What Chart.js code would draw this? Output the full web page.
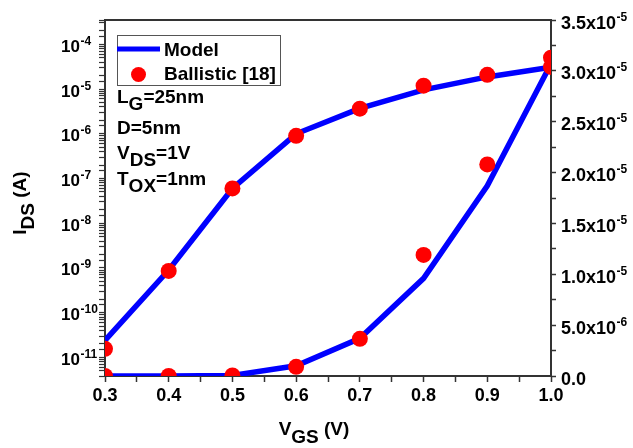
<!DOCTYPE html>
<html><head><meta charset="utf-8">
<script src="https://cdn.jsdelivr.net/npm/chart.js@4.4.1/dist/chart.umd.min.js"></script>
<style>html,body{margin:0;padding:0;background:#fff;overflow:hidden;}</style>
</head><body>
<canvas id="c" width="633" height="448"></canvas>
<script>
// ---- data ----
const vgs = [0.3, 0.4, 0.5, 0.6, 0.7, 0.8, 0.9, 1.0];
const modelIds = [2.4e-11, 9.0e-10, 6.0e-8, 1.0e-6, 3.7e-6, 9.6e-6, 1.87e-5, 3.07e-5];
const ballisticIds = [1.56e-11, 8.6e-10, 6.0e-8, 9.0e-7, 3.65e-6, 1.19e-5, 2.08e-5, 3.13e-5];
const xTickLabels = ['0.3', '0.4', '0.5', '0.6', '0.7', '0.8', '0.9', '1.0'];
const logTickExps = [-11, -10, -9, -8, -7, -6, -5, -4];
const linTickValues = [0, 5e-6, 1e-5, 1.5e-5, 2e-5, 2.5e-5, 3e-5, 3.5e-5];
const linTickMant = ['0.0', '5.0x10', '1.0x10', '1.5x10', '2.0x10', '2.5x10', '3.0x10', '3.5x10'];
const linTickExp = ['', '-6', '-5', '-5', '-5', '-5', '-5', '-5'];

const pts = ys => vgs.map((x, i) => ({x, y: ys[i]}));
const FONT = '"Liberation Sans", Arial, Helvetica, sans-serif';
const tickFont = {family: FONT, size: 18, weight: 'bold'};
const AX = '#333';

const lineDs = (axis) => ({
  label: 'Model', data: pts(modelIds), yAxisID: axis, showLine: true,
  borderColor: '#0000ff', backgroundColor: '#0000ff', borderWidth: 5.5,
  pointRadius: 0, tension: 0, order: 2
});
const dotDs = (axis) => ({
  label: 'Ballistic [18]', data: pts(ballisticIds), yAxisID: axis, showLine: false,
  borderColor: '#ff0000', backgroundColor: '#ff0000', borderWidth: 0,
  pointRadius: 8, pointHoverRadius: 8, order: 1
});

function drawRich(ctx, x, y, segs, size, align) {
  ctx.font = 'bold ' + size + 'px ' + FONT;
  let w = 0;
  segs.forEach(s => { w += ctx.measureText(s.t).width; });
  let cx = align === 'center' ? x - w / 2 : x;
  ctx.textAlign = 'left';
  ctx.textBaseline = 'alphabetic';
  segs.forEach(s => {
    ctx.fillText(s.t, cx, y + (s.dy || 0));
    cx += ctx.measureText(s.t).width;
  });
}

const overlay = {
  id: 'overlay',
  afterDraw(chart) {
    const {ctx, chartArea: a} = chart;
    const yLog = chart.scales.yLog, yLin = chart.scales.yLin;
    ctx.save();
    // top frame line
    ctx.strokeStyle = AX; ctx.lineWidth = 2;
    ctx.beginPath(); ctx.moveTo(a.left - 1, a.top); ctx.lineTo(a.right + 1, a.top); ctx.stroke();

    ctx.fillStyle = '#000';
    // left log tick labels: 10 with superscript exponent
    logTickExps.forEach(e => {
      const y = yLog.getPixelForValue(Math.pow(10, e));
      ctx.font = 'bold 17px ' + FONT;
      ctx.textAlign = 'right'; ctx.textBaseline = 'alphabetic';
      ctx.fillText('10', 80, y + 7.5);
      ctx.font = 'bold 12px ' + FONT;
      ctx.textAlign = 'left';
      ctx.fillText(String(e), 80.5, y + 0.5);
    });
    // right linear tick labels
    linTickValues.forEach((v, i) => {
      const y = yLin.getPixelForValue(v);
      ctx.font = 'bold 18px ' + FONT;
      ctx.textAlign = 'left'; ctx.textBaseline = 'alphabetic';
      const m = linTickMant[i];
      ctx.fillText(m, 561, y + 8.5);
      if (linTickExp[i]) {
        const w = ctx.measureText(m).width;
        ctx.font = 'bold 12px ' + FONT;
        ctx.fillText(linTickExp[i], 561 + w + 0.5, y + 0.5);
      }
    });

    // legend
    ctx.strokeStyle = '#555'; ctx.lineWidth = 1;
    ctx.strokeRect(117.5, 35.5, 163, 50);
    ctx.strokeStyle = '#0000ff'; ctx.lineWidth = 5; ctx.lineCap = 'butt';
    ctx.beginPath(); ctx.moveTo(117, 49); ctx.lineTo(160, 49); ctx.stroke();
    ctx.fillStyle = '#ff0000';
    ctx.beginPath(); ctx.arc(138.5, 74.5, 7.5, 0, Math.PI * 2); ctx.fill();
    ctx.fillStyle = '#000';
    drawRich(ctx, 164, 56, [{t: 'Model'}], 19, 'left');
    drawRich(ctx, 164, 80, [{t: 'Ballistic [18]'}], 19, 'left');

    // annotations
    drawRich(ctx, 117, 103, [{t: 'L'}, {t: 'G', dy: 6.5}, {t: '=25nm'}], 19, 'left');
    drawRich(ctx, 117, 134, [{t: 'D=5nm'}], 19, 'left');
    drawRich(ctx, 117, 159, [{t: 'V'}, {t: 'DS', dy: 6.5}, {t: '=1V'}], 19, 'left');
    drawRich(ctx, 117, 185, [{t: 'T'}, {t: 'OX', dy: 6.5}, {t: '=1nm'}], 19, 'left');

    // x title
    drawRich(ctx, 314, 435, [{t: 'V'}, {t: 'GS', dy: 8}, {t: ' (V)'}], 19, 'center');
    // y title
    ctx.translate(26, 203);
    ctx.rotate(-Math.PI / 2);
    drawRich(ctx, 0, 0, [{t: 'I'}, {t: 'DS', dy: 8}, {t: ' (A)'}], 19, 'center');
    ctx.restore();
  }
};

new Chart(document.getElementById('c'), {
  type: 'scatter',
  data: {datasets: [lineDs('yLog'), lineDs('yLin'), dotDs('yLog'), dotDs('yLin')]},
  options: {
    responsive: false, animation: false, devicePixelRatio: 1,
    layout: {padding: {top: 20, left: 0, right: 0, bottom: 0}},
    plugins: {legend: {display: false}, tooltip: {enabled: false}},
    scales: {
      x: {
        type: 'linear', position: 'bottom', min: 0.3, max: 1.0,
        ticks: {stepSize: 0.05, autoSkip: false, maxRotation: 0, color: '#000', font: tickFont, padding: 3,
          callback: (v, i) => (i % 2 === 0 ? xTickLabels[i / 2] : '')},
        grid: {drawOnChartArea: false, drawTicks: true, tickLength: 6, tickColor: AX, tickWidth: 1.5},
        border: {display: true, color: AX, width: 2},
        afterFit(s) { s.height = 72; }
      },
      yLog: {
        type: 'logarithmic', position: 'left', min: 3.85e-12, max: 3.5e-4,
        ticks: {display: false, autoSkip: false},
        grid: {drawOnChartArea: false, drawTicks: true, tickLength: 6, tickColor: AX, tickWidth: 1.2},
        border: {display: true, color: AX, width: 2},
        afterFit(s) { s.width = 105; }
      },
      yLin: {
        type: 'linear', position: 'right', min: 0, max: 3.5e-5,
        ticks: {display: false, stepSize: 2.5e-6, autoSkip: false},
        grid: {drawOnChartArea: false, drawTicks: true, tickLength: 5, tickColor: AX, tickWidth: 1.5},
        border: {display: true, color: AX, width: 2},
        afterFit(s) { s.width = 82; }
      }
    }
  },
  plugins: [overlay]
});
</script>
</body></html>
